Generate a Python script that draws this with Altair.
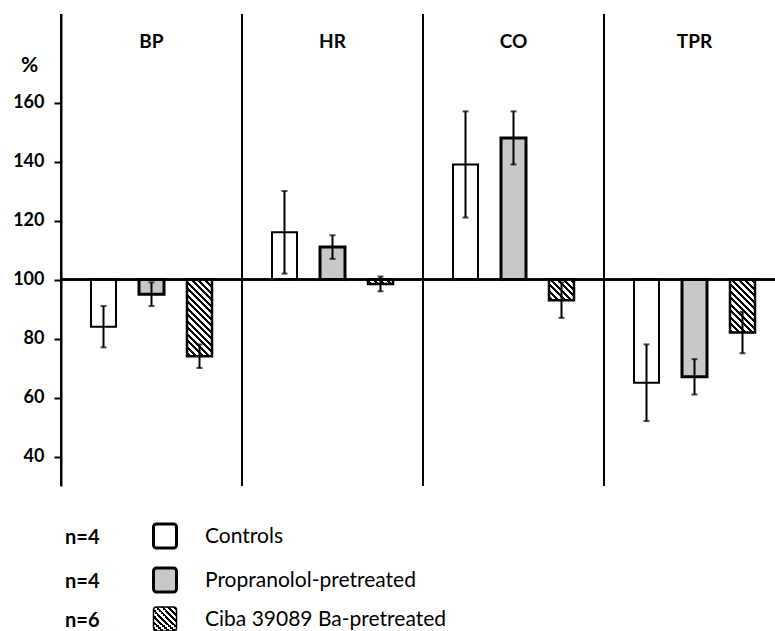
import altair as alt
import pandas as pd

# ---------------- data ----------------
panels = ["BP", "HR", "CO", "TPR"]
groups = ["Controls", "Propranolol-pretreated", "Ciba 39089 Ba-pretreated"]
n_labels = ["n=4", "n=4", "n=6"]
controls_mean = [84, 116, 139, 65]
controls_sem = [7, 14, 18, 13]
propranolol_mean = [95, 111, 148, 67]
propranolol_sem = [4, 4, 9, 6]
ciba_mean = [74, 98.5, 93, 82]
ciba_sem = [4, 2.5, 6, 7]
y_ticks = [40, 60, 80, 100, 120, 140, 160]
baseline_value = 100

rows = []
for g, means, sems in zip(groups,
                          [controls_mean, propranolol_mean, ciba_mean],
                          [controls_sem, propranolol_sem, ciba_sem]):
    for p, m, s in zip(panels, means, sems):
        rows.append({"panel": p, "group": g, "mean": m, "sem": s})
df = pd.DataFrame(rows)
panel_df = pd.DataFrame({"panel": panels})

# ---------------- layout / style ----------------
FONT = "Lato"
W, H = 714, 472
PANEL_W = 181
Y_DOMAIN = [30, 190]
PX = H / (Y_DOMAIN[1] - Y_DOMAIN[0])
BAND = 25

x_scale = alt.Scale(domain=panels, range=[0, PANEL_W * 4], paddingInner=0, paddingOuter=0)
xo_scale = alt.Scale(domain=groups, paddingInner=0.479, paddingOuter=0.625)
y_scale = alt.Scale(domain=Y_DOMAIN, nice=False, zero=False)
Y_AXIS = alt.Axis(values=y_ticks, title="%", grid=False)

X = alt.X("panel:N", scale=x_scale, axis=None)
XO = alt.XOffset("group:N", scale=xo_scale)


def hatch(w, h, period=6.5, black=3.0):
    """Diagonal '\\' hatch as a bounding-box linear gradient."""
    L = w + h
    k = L / (w * w + h * h)
    def t(c):
        return min(max((c + h) / L, 0.0), 1.0)
    stops = [alt.GradientStop(offset=0, color="white")]
    c0 = -h - period + 1.5
    while c0 < w:
        a, b = t(c0), t(c0 + black)
        if b > a:
            stops += [alt.GradientStop(offset=a, color="white"),
                      alt.GradientStop(offset=a, color="black"),
                      alt.GradientStop(offset=b, color="black"),
                      alt.GradientStop(offset=b, color="white")]
        c0 += period
    stops.append(alt.GradientStop(offset=1, color="white"))
    return alt.Gradient(gradient="linear", stops=stops,
                        x1=0, y1=1, x2=k * w, y2=1 - k * h)


STIPPLE = "#c8c8c8"

layers = []

# bars: controls
layers.append(
    alt.Chart(df).transform_filter(alt.datum.group == groups[0])
    .mark_bar(fill="white", stroke="black", strokeWidth=2)
    .encode(
        x=X, xOffset=XO,
        y=alt.Y("mean:Q", scale=y_scale, axis=Y_AXIS),
        y2=alt.datum(baseline_value),
    )
)

# bars: propranolol
layers.append(
    alt.Chart(df).transform_filter(alt.datum.group == groups[1])
    .mark_bar(fill=STIPPLE, stroke="black", strokeWidth=3)
    .encode(x=X, xOffset=XO,
            y=alt.Y("mean:Q", scale=y_scale, axis=Y_AXIS),
            y2=alt.datum(baseline_value))
)

# bars: ciba (hatched; one gradient per bar so the hatch stays at 45 degrees)
for p, m in zip(panels, ciba_mean):
    h = max(abs(m - baseline_value) * PX, 1.0)
    layers.append(
        alt.Chart(df)
        .transform_filter((alt.datum.group == groups[2]) & (alt.datum.panel == p))
        .mark_bar(fill=hatch(BAND, h), stroke="black", strokeWidth=2.5)
        .encode(x=X, xOffset=XO,
                y=alt.Y("mean:Q", scale=y_scale, axis=Y_AXIS),
                y2=alt.datum(baseline_value))
    )

# panel separators
layers.append(
    alt.Chart(panel_df).mark_rule(color="black", strokeWidth=2).encode(
        x=alt.X("panel:N", scale=x_scale, axis=None, bandPosition=0)
    )
)

# baseline at 100 %
layers.append(
    alt.Chart(panel_df).mark_rule(color="black", strokeWidth=2).encode(
        y=alt.datum(baseline_value, scale=y_scale, axis=Y_AXIS)
    )
)

# error bars
err_base = alt.Chart(df).transform_calculate(
    lo="datum.mean - datum.sem", hi="datum.mean + datum.sem"
)
layers.append(
    err_base.mark_rule(color="black", strokeWidth=2).encode(
        x=X, xOffset=XO,
        y=alt.Y("lo:Q", scale=y_scale, axis=Y_AXIS), y2="hi:Q")
)
for f in ["lo", "hi"]:
    layers.append(
        err_base.mark_tick(color="black", size=6, thickness=2).encode(
            x=X, xOffset=XO,
            y=alt.Y(f"{f}:Q", scale=y_scale, axis=Y_AXIS))
    )

# panel titles
layers.append(
    alt.Chart(panel_df).mark_text(font=FONT, fontSize=19, fontWeight="bold",
                                  color="black", baseline="middle")
    .encode(x=X, y=alt.value(27.5), text="panel:N")
)

# legend rows
row_y = [522, 566, 605]
for i, (g, n) in enumerate(zip(groups, n_labels)):
    ld = pd.DataFrame({"group": [g], "n": [n]})
    ry = row_y[i]
    layers.append(
        alt.Chart(ld).mark_text(font=FONT, fontSize=20, fontWeight="bold",
                                color="black", align="left", baseline="middle")
        .encode(x=alt.value(4), y=alt.value(ry + 2), text="n:N")
    )
    if i == 0:
        fill, sw = "white", 3
    elif i == 1:
        fill, sw = STIPPLE, 3
    else:
        fill, sw = hatch(23, 24, period=6.0, black=3.0), 1.5
    layers.append(
        alt.Chart(ld).mark_rect(fill=fill, stroke="black", strokeWidth=sw,
                                cornerRadius=3)
        .encode(x=alt.value(92.5), x2=alt.value(115.5),
                y=alt.value(ry - 12), y2=alt.value(ry + 12))
    )
    layers.append(
        alt.Chart(ld).mark_text(font=FONT, fontSize=21, color="black",
                                align="left", baseline="middle")
        .encode(x=alt.value(144), y=alt.value(ry + 1), text="group:N")
    )

chart = (
    alt.layer(*layers)
    .properties(
        width=W, height=H,
        autosize=alt.AutoSizeParams(type="none"),
        padding={"left": 61, "top": 14, "right": 0, "bottom": 631 - 14 - H},
        background="white",
    )
    .configure_view(stroke=None)
    .configure_axis(
        domainColor="black", domainWidth=2,
        tickColor="black", tickWidth=2, tickSize=7,
        labelFont=FONT, labelFontSize=18, labelFontWeight="bold",
        labelColor="black", labelPadding=10,
        titleFont=FONT, titleFontSize=21, titleFontWeight="bold",
        titleColor="black", titleAngle=0, titleX=-32, titleY=51,
        titleAlign="center", titleBaseline="middle",
    )
)

chart.save("out.html", embed_options={"renderer": "svg", "actions": False})
